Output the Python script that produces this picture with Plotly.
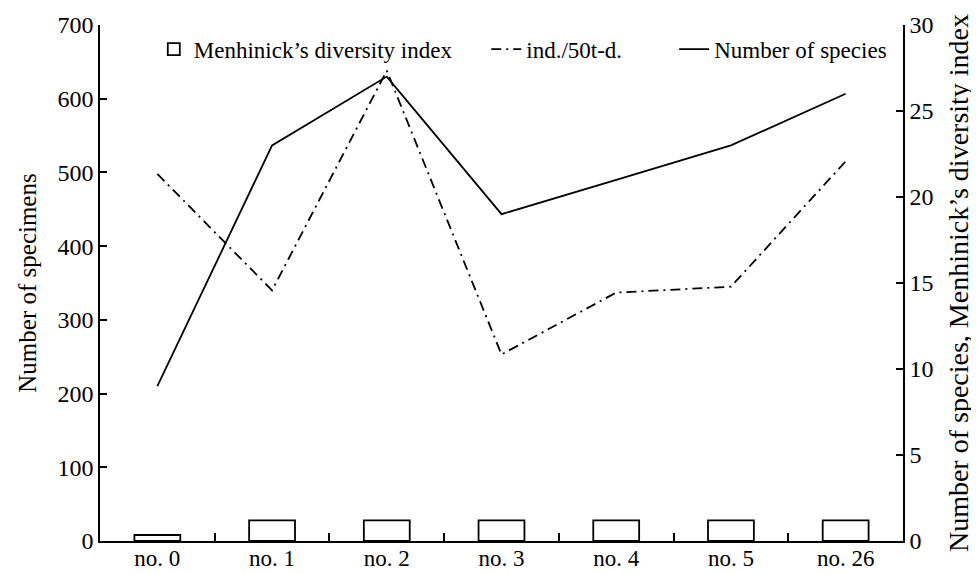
import plotly.graph_objects as go

categories = ["no. 0", "no. 1", "no. 2", "no. 3", "no. 4", "no. 5", "no. 26"]
menhinick = [0.35, 1.2, 1.2, 1.2, 1.2, 1.2, 1.2]
ind_50td = [498, 340, 638, 253, 337, 345, 515]
num_species = [9, 23, 27, 19, 21, 23, 26]

left_ticks = [0, 100, 200, 300, 400, 500, 600, 700]
right_ticks = [0, 5, 10, 15, 20, 25, 30]

FONT = "Liberation Serif"

fig = go.Figure()
fig.add_trace(go.Bar(
    x=categories, y=menhinick, yaxis="y2", width=0.4,
    marker=dict(color="white", line=dict(color="black", width=1.8)),
    name="Menhinick\u2019s diversity index", legend="legend",
))
fig.add_trace(go.Scatter(
    x=categories, y=ind_50td, yaxis="y", mode="lines",
    line=dict(color="black", width=1.8, dash="10px,5px,2px,5px"),
    name="ind./50t-d.", legend="legend2",
))
fig.add_trace(go.Scatter(
    x=categories, y=num_species, yaxis="y2", mode="lines",
    line=dict(color="black", width=1.8),
    name="Number of species", legend="legend3",
))

legend_common = dict(
    orientation="h", yanchor="middle", y=0.953, xanchor="left",
    font=dict(family=FONT, size=23, color="black"),
    bgcolor="rgba(0,0,0,0)", borderwidth=0, itemwidth=30,
)

fig.update_layout(
    width=979, height=574,
    margin=dict(l=92, r=84, t=17, b=41),
    paper_bgcolor="white", plot_bgcolor="white",
    font=dict(family=FONT, size=23, color="black"),
    showlegend=True,
    legend=dict(legend_common, x=0.067),
    legend2=dict(legend_common, x=0.481),
    legend3=dict(legend_common, x=0.715),
    xaxis=dict(
        type="category", categoryorder="array", categoryarray=categories,
        showline=True, linecolor="black", linewidth=1.5,
        ticks="inside", tickson="boundaries", ticklen=8, tickcolor="black",
        tickwidth=1.5, showgrid=False, zeroline=False, automargin=False,
        tickfont=dict(family=FONT, size=23), ticklabelstandoff=-4,
    ),
    yaxis=dict(
        range=[0, 700], tickvals=left_ticks, ticks="inside", ticklen=7,
        tickwidth=1.5, tickcolor="black",
        showline=True, linecolor="black", linewidth=1.5,
        showgrid=False, zeroline=False, automargin=False,
        tickfont=dict(family=FONT, size=24),
        title=dict(text="Number of specimens", font=dict(family=FONT, size=25), standoff=14),
    ),
    yaxis2=dict(
        range=[0, 30], tickvals=right_ticks, overlaying="y", side="right",
        ticks="inside", ticklen=7, tickwidth=1.5, tickcolor="black",
        showline=True, linecolor="black", linewidth=1.5,
        showgrid=False, zeroline=False, automargin=False,
        tickfont=dict(family=FONT, size=24),
        title=dict(text="Number of species, Menhinick\u2019s diversity index",
                   font=dict(family=FONT, size=28), standoff=16),
    ),
    bargap=0.6,
)

fig.write_html("out.html")
